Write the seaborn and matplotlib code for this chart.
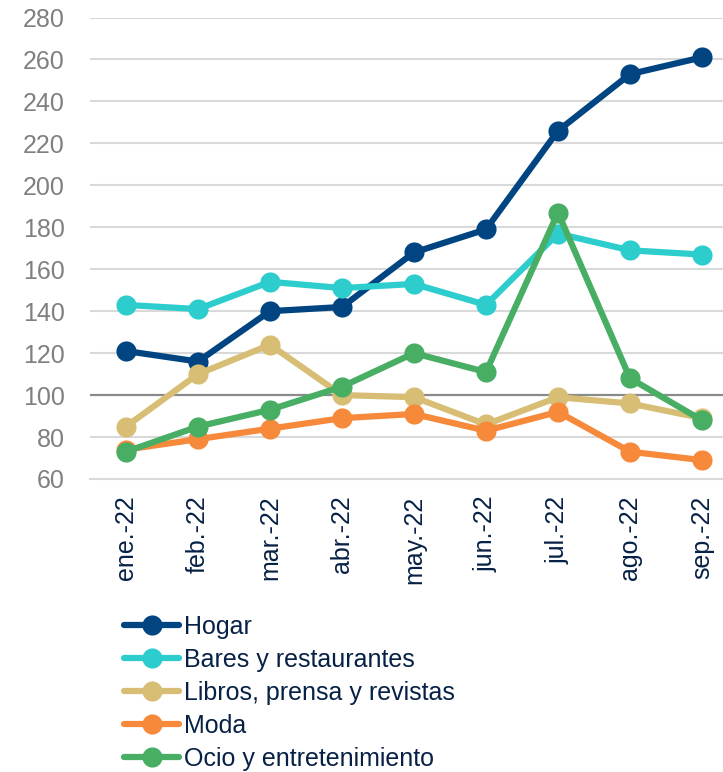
import matplotlib
matplotlib.use("Agg")
import matplotlib.pyplot as plt
import seaborn as sns
import pandas as pd
from matplotlib.lines import Line2D

months = ["ene.-22", "feb.-22", "mar.-22", "abr.-22", "may.-22", "jun.-22", "jul.-22", "ago.-22", "sep.-22"]
hogar = [121, 116, 140, 142, 168, 179, 226, 253, 261]
bares = [143, 141, 154, 151, 153, 143, 177, 169, 167]
libros = [85, 110, 124, 100, 99, 86, 99, 96, 89]
moda = [74, 79, 84, 89, 91, 83, 92, 73, 69]
ocio = [73, 85, 93, 104, 120, 111, 187, 108, 88]

series_names = ["Hogar", "Bares y restaurantes", "Libros, prensa y revistas", "Moda", "Ocio y entretenimiento"]
series_values = [hogar, bares, libros, moda, ocio]
colors = ["#004481", "#2DCCCD", "#D8BE75", "#F7893B", "#48AE64"]

rows = []
for name, vals in zip(series_names, series_values):
    for i, v in enumerate(vals):
        rows.append({"mes": i, "serie": name, "valor": v})
df = pd.DataFrame(rows)

sns.set_theme(style="white")
plt.rcParams["font.family"] = ["Liberation Sans", "DejaVu Sans"]

W, H = 723, 772
fig = plt.figure(figsize=(W / 100, H / 100), dpi=100)
ax = fig.add_axes([90 / W, (H - 479) / H, (738 - 90) / W, (479 - 17.5) / H])

# gridlines
for yv in range(80, 281, 20):
    if yv == 100:
        ax.axhline(yv, color="#8a8a8a", lw=1.6, zorder=1)
    else:
        ax.axhline(yv, color="#d9d9d9", lw=1.5, zorder=1)

palette = dict(zip(series_names, colors))
sns.lineplot(data=df, x="mes", y="valor", hue="serie", palette=palette,
             hue_order=series_names, marker="o", markersize=14.5,
             markeredgewidth=0, linewidth=4.5, legend=False, ax=ax, zorder=3)

ax.set_ylim(60, 280)
ax.set_xlim(-0.5, 8.5)
ax.set_yticks(range(60, 281, 20))
ax.set_yticklabels([str(v) for v in range(60, 281, 20)], color="#808080", fontsize=18)
ax.set_xticks(range(len(months)))
ax.set_xticklabels(months, rotation=90, color="#072146", fontsize=18)
ax.set_xticks([i + 0.5 for i in range(-1, len(months))], minor=True)
ax.tick_params(axis="x", which="major", length=0, pad=12)
ax.tick_params(axis="x", which="minor", length=8, width=1.5, color="#d9d9d9", direction="out")
ax.tick_params(axis="y", length=0, pad=18)
ax.set_xlabel("")
ax.set_ylabel("")
for s in ["left", "right", "top"]:
    ax.spines[s].set_visible(False)
ax.spines["bottom"].set_color("#d9d9d9")
ax.spines["bottom"].set_linewidth(1.5)
ax.spines["bottom"].set_zorder(2)
ax.set_facecolor("white")

handles = [Line2D([0], [0], color=c, lw=4.5, marker="o", markersize=14.5, markeredgewidth=0)
           for c in colors]
leg = fig.legend(handles, series_names, loc="upper left", bbox_to_anchor=(124 / W, 1 - 615 / H),
                 frameon=False, fontsize=18, handlelength=2.2, handletextpad=0.2,
                 labelspacing=0.36, borderaxespad=0, borderpad=0)
for t in leg.get_texts():
    t.set_color("#072146")

fig.savefig("out.png", dpi=100, facecolor="white")
